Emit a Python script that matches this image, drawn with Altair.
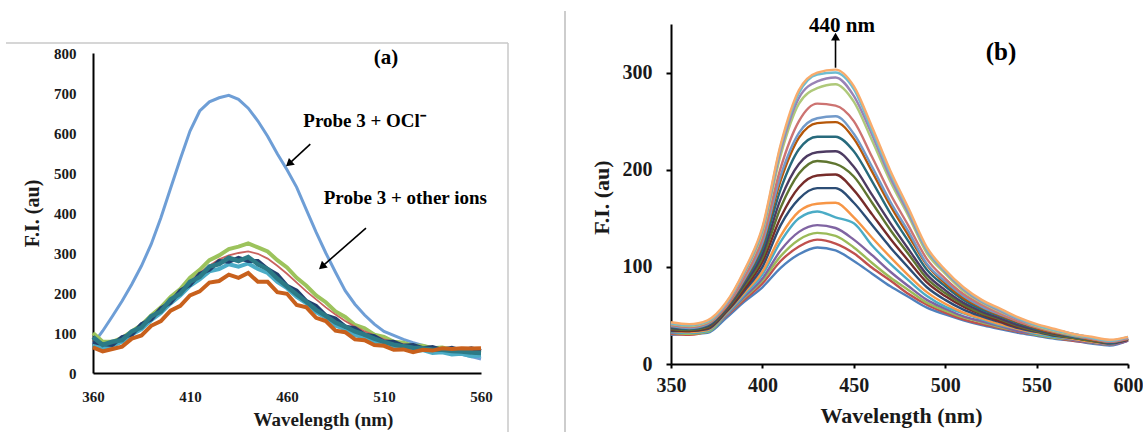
import altair as alt
import pandas as pd

# ---------------- Panel (a) data ----------------
wl_a = [360, 365, 370, 375, 380, 385, 390, 395, 400, 405, 410, 415, 420, 425, 430, 435, 440,
        445, 450, 455, 460, 465, 470, 475, 480, 485, 490, 495, 500, 505, 510, 515, 520, 525,
        530, 535, 540, 545, 550, 555, 560]

a_ocl = [72, 105, 142, 180, 222, 268, 322, 388, 462, 535, 605, 655, 678, 688, 694, 684, 662,
         630, 592, 548, 508, 464, 408, 352, 300, 252, 206, 172, 145, 122, 104, 94, 84, 76,
         69, 62, 57, 52, 47, 41, 35]
a_green = [100, 78, 78, 88, 104, 120, 144, 164, 190, 210, 238, 258, 282, 294, 310, 316, 324,
           314, 304, 282, 264, 238, 218, 194, 177, 154, 140, 120, 112, 96, 90, 78, 76, 68,
           68, 62, 64, 58, 60, 54, 57]
a_red = [82, 70, 72, 86, 100, 118, 138, 160, 184, 206, 228, 250, 268, 284, 294, 300, 304,
         298, 286, 268, 248, 226, 204, 184, 164, 146, 130, 116, 104, 94, 84, 77, 72, 68,
         64, 62, 60, 58, 57, 56, 54]
a_cyan = [72, 60, 68, 78, 96, 110, 132, 150, 174, 194, 218, 234, 254, 260, 272, 266, 274,
          260, 250, 228, 212, 190, 174, 152, 138, 118, 110, 94, 90, 78, 74, 64, 64, 55,
          57, 50, 52, 46, 48, 42, 44]
a_navy = [78, 72, 70, 90, 96, 122, 134, 162, 176, 206, 220, 248, 258, 280, 278, 288, 280,
          280, 260, 246, 218, 206, 180, 168, 144, 136, 116, 112, 96, 92, 78, 78, 68, 70,
          62, 65, 58, 63, 56, 62, 55]
a_teal = [90, 70, 78, 82, 104, 114, 142, 154, 184, 198, 228, 240, 266, 272, 288, 280, 290,
          272, 260, 236, 216, 196, 178, 158, 143, 126, 116, 104, 96, 86, 78, 71, 67, 63,
          62, 58, 58, 55, 54, 51, 50]
a_orange = [64, 54, 60, 66, 86, 94, 118, 130, 156, 168, 194, 204, 226, 230, 246, 238, 250,
            228, 228, 202, 198, 170, 164, 138, 130, 106, 102, 84, 82, 70, 68, 58, 59, 52,
            58, 56, 62, 60, 62, 61, 62]

a_xticks = [360, 410, 460, 510, 560]
a_yticks = [0, 100, 200, 300, 400, 500, 600, 700, 800]

# ---------------- Panel (b) data ----------------
wl_b = [350, 360, 370, 380, 390, 400, 410, 420, 430, 440, 450, 460, 470, 480, 490, 500, 510,
        520, 530, 540, 550, 560, 570, 580, 590, 600]

b01 = [30, 31, 32, 47, 64, 79, 99, 113, 120, 117, 106, 93, 80, 69, 58, 51, 45, 40, 36, 32, 29, 26, 24, 21, 19, 24]
b02 = [31, 30, 34, 49, 66, 83, 106, 121, 128, 124, 114, 99, 86, 72, 61, 53, 46, 41, 37, 33, 30, 27, 24, 22, 20, 24]
b03 = [32, 31, 33, 50, 68, 86, 111, 128, 135, 132, 120, 104, 89, 76, 63, 55, 48, 43, 38, 34, 30, 27, 25, 22, 20, 25]
b04 = [32, 32, 35, 50, 69, 88, 117, 136, 143, 140, 128, 112, 95, 80, 66, 57, 49, 44, 39, 34, 31, 28, 25, 22, 20, 24]
b05 = [33, 32, 34, 51, 71, 92, 126, 150, 157, 151, 145, 122, 103, 86, 70, 59, 52, 46, 40, 36, 31, 28, 26, 23, 21, 26]
b06 = [34, 33, 35, 52, 73, 95, 132, 157, 165, 166, 151, 130, 110, 91, 74, 62, 53, 47, 41, 36, 32, 29, 26, 23, 21, 25]
b07 = [34, 34, 36, 53, 75, 100, 143, 170, 181, 181, 166, 143, 120, 99, 79, 66, 56, 49, 43, 37, 33, 29, 27, 24, 21, 25]
b08 = [35, 34, 37, 54, 77, 105, 151, 182, 194, 195, 179, 154, 129, 106, 84, 70, 59, 51, 44, 38, 34, 30, 27, 24, 22, 25]
b09 = [36, 35, 38, 55, 80, 109, 161, 196, 209, 206, 193, 166, 138, 113, 88, 73, 61, 52, 46, 39, 34, 30, 27, 24, 22, 26]
b10 = [37, 36, 39, 56, 82, 113, 170, 206, 218, 219, 203, 174, 145, 118, 92, 76, 63, 54, 47, 40, 35, 31, 28, 25, 22, 26]
b11 = [38, 36, 40, 57, 84, 118, 180, 221, 234, 234, 219, 188, 155, 126, 97, 80, 66, 56, 49, 42, 36, 32, 28, 25, 22, 26]
b12 = [39, 37, 41, 58, 86, 123, 189, 233, 248, 249, 232, 198, 163, 132, 102, 83, 68, 58, 50, 43, 37, 32, 29, 25, 23, 26]
b13 = [39, 37, 41, 59, 87, 125, 194, 238, 253, 255, 237, 203, 167, 136, 103, 85, 70, 59, 51, 44, 38, 33, 29, 26, 23, 27]
b14 = [40, 38, 42, 59, 89, 129, 202, 250, 268, 266, 250, 213, 175, 142, 108, 88, 72, 61, 52, 44, 38, 33, 30, 26, 23, 26]
b15 = [41, 39, 43, 61, 93, 135, 215, 268, 284, 288, 270, 230, 188, 152, 114, 93, 75, 63, 54, 46, 39, 34, 30, 27, 24, 27]
b16 = [42, 40, 44, 61, 94, 138, 220, 274, 291, 295, 276, 236, 192, 155, 117, 95, 77, 64, 55, 46, 40, 35, 31, 27, 24, 27]
b17 = [42, 40, 44, 62, 95, 139, 224, 279, 298, 300, 283, 240, 196, 158, 118, 96, 78, 65, 56, 47, 40, 35, 31, 27, 24, 28]
b18 = [43, 41, 45, 63, 96, 141, 226, 282, 300, 303, 286, 244, 199, 160, 120, 97, 79, 66, 57, 48, 41, 36, 31, 28, 25, 28]

b_xticks = [350, 400, 450, 500, 550, 600]
b_yticks = [0, 100, 200, 300]

# ---------------- styles ----------------
FONT = "Liberation Serif"
TXT = "#1a1a1a"
a_series = [
    (a_ocl, "#6E9ED6", 3.0),
    (a_green, "#9CC35C", 4.0),
    (a_red, "#C9625E", 1.8),
    (a_cyan, "#4BACC6", 4.0),
    (a_navy, "#22406F", 4.0),
    (a_teal, "#2C7A86", 4.5),
    (a_orange, "#C8601C", 4.0),
]
b_series = [b01, b02, b03, b04, b05, b06, b07, b08, b09, b10, b11, b12, b13, b14, b15, b16, b17, b18]
b_colors = ["#4F81BD", "#C0504D", "#9BBB59", "#8064A2", "#4BACC6", "#F79646",
            "#2C4D75", "#772C2A", "#5F7530", "#4D3B62", "#276A7C", "#B65708",
            "#729ACA", "#CD7371", "#AFC97A", "#9983B5", "#6FBDD1", "#F9AB6B"]


def xa():
    return alt.X("w:Q", scale=alt.Scale(domain=[360, 560], nice=False, zero=False),
                 axis=alt.Axis(values=a_xticks, title="Wavelength (nm)", grid=False,
                               ticks=False, tickSize=0, domainColor="black", domainWidth=2,
                               labelFont=FONT, labelFontSize=15, labelFontWeight="bold",
                               labelColor=TXT, labelPadding=16, labelFlush=False,
                               labelOverlap=False, titleFont=FONT, titleFontSize=19,
                               titleFontWeight="bold", titleColor=TXT, titleX=230, titleY=46,
                               titleBaseline="middle", titleAlign="center"))


def ya():
    return alt.Y("v:Q", scale=alt.Scale(domain=[0, 800], nice=False, zero=False, range=[349, 29]),
                 axis=alt.Axis(values=a_yticks, title="F.I. (au)", grid=False,
                               ticks=False, tickSize=0, domainColor="black", domainWidth=2,
                               labelFont=FONT, labelFontSize=15, labelFontWeight="bold",
                               labelColor=TXT, labelPadding=17, labelFlush=False,
                               labelOverlap=False, titleFont=FONT, titleFontSize=20,
                               titleFontWeight="bold", titleColor=TXT, titleX=-61, titleY=189,
                               titleBaseline="middle", titleAlign="center", titleAngle=270))


def xb():
    return alt.X("w:Q", scale=alt.Scale(domain=[350, 600], nice=False, zero=False),
                 axis=alt.Axis(values=b_xticks, title="Wavelength (nm)", grid=False,
                               ticks=True, tickSize=4, tickWidth=2, tickColor="black",
                               domainColor="black", domainWidth=2,
                               labelFont=FONT, labelFontSize=20, labelFontWeight="bold",
                               labelColor=TXT, labelPadding=7, labelFlush=False,
                               labelOverlap=False, titleFont=FONT, titleFontSize=22,
                               titleFontWeight="bold", titleColor=TXT, titleX=230, titleY=51,
                               titleBaseline="middle", titleAlign="center"))


def yb():
    return alt.Y("v:Q", scale=alt.Scale(domain=[0, 350], nice=False, zero=False),
                 axis=alt.Axis(values=b_yticks, title="F.I. (au)", grid=False,
                               ticks=True, tickSize=5, tickWidth=2, tickColor="black",
                               domainColor="black", domainWidth=2,
                               labelFont=FONT, labelFontSize=20, labelFontWeight="bold",
                               labelColor=TXT, labelPadding=14, labelFlush=False,
                               labelOverlap=False, titleFont=FONT, titleFontSize=22,
                               titleFontWeight="bold", titleColor=TXT, titleX=-70, titleY=173,
                               titleBaseline="middle", titleAlign="center", titleAngle=270))


def text_layer(w, v, t, size, x_enc, y_enc):
    df = pd.DataFrame({"w": [w], "v": [v], "t": [t]})
    return alt.Chart(df).mark_text(font=FONT, fontSize=size, fontWeight="bold",
                                   color="black").encode(x=x_enc(), y=y_enc(), text="t:N")


def arrow_layers(w0, v0, w1, v1, ang, x_enc, y_enc):
    df = pd.DataFrame({"w": [w0, w1], "v": [v0, v1]})
    shaft = alt.Chart(df).mark_line(color="black", strokeWidth=1.6).encode(x=x_enc(), y=y_enc())
    head = alt.Chart(pd.DataFrame({"w": [w1], "v": [v1]})).mark_point(
        shape="triangle-up", filled=True, color="black", opacity=1, size=80, angle=ang
    ).encode(x=x_enc(), y=y_enc())
    return [shaft, head]


# ---------------- Panel (a) ----------------
layers_a = []
for vals, col, sw in a_series:
    df = pd.DataFrame({"w": wl_a, "v": vals})
    layers_a.append(alt.Chart(df).mark_line(color=col, strokeWidth=sw).encode(x=xa(), y=ya()))

layers_a.append(text_layer(511, 787, "(a)", 21, xa, ya))
layers_a.append(text_layer(500, 630, "Probe 3 + OCl\u207b", 19, xa, ya))
layers_a.append(text_layer(521, 437, "Probe 3 + other ions", 19, xa, ya))
layers_a += arrow_layers(472, 572, 461, 523, 229, xa, ya)
layers_a += arrow_layers(500.7, 362, 478, 266, 229, xa, ya)

dummy = pd.DataFrame({"k": [0]})
frame_top = alt.Chart(dummy).mark_rule(color="#c8c8c8", strokeWidth=1.5).encode(
    x=alt.value(-87), x2=alt.value(415), y=alt.value(19))
frame_right = alt.Chart(dummy).mark_rule(color="#c8c8c8", strokeWidth=1.5).encode(
    x=alt.value(415), y=alt.value(19), y2=alt.value(409))
separator = alt.Chart(dummy).mark_rule(color="#bdbdbd", strokeWidth=1.5).encode(
    x=alt.value(472), y=alt.value(-13), y2=alt.value(409))
layers_a += [frame_top, frame_right, separator]

panel_a = alt.layer(*layers_a).properties(width=388, height=349)

# ---------------- Panel (b) ----------------
layers_b = []
for vals, col in zip(b_series, b_colors):
    df = pd.DataFrame({"w": wl_b, "v": vals})
    layers_b.append(alt.Chart(df).mark_line(color=col, strokeWidth=2.4,
                                            interpolate="monotone").encode(x=xb(), y=yb()))

layers_b.append(text_layer(443.5, 348, "440 nm", 21, xb, yb))
layers_b += arrow_layers(440, 305, 440, 337, 0, xb, yb)
layers_b.append(text_layer(530.5, 321, "(b)", 25, xb, yb))

panel_b = alt.layer(*layers_b).properties(width=457, height=340)

chart = alt.hconcat(panel_a, panel_b, spacing=190, bounds="flush").properties(
    padding={"left": 5, "top": 10, "right": 0, "bottom": 0},
    background="white",
).configure_view(stroke=None)

chart.save("out.html", embed_options={"renderer": "svg", "actions": False})
